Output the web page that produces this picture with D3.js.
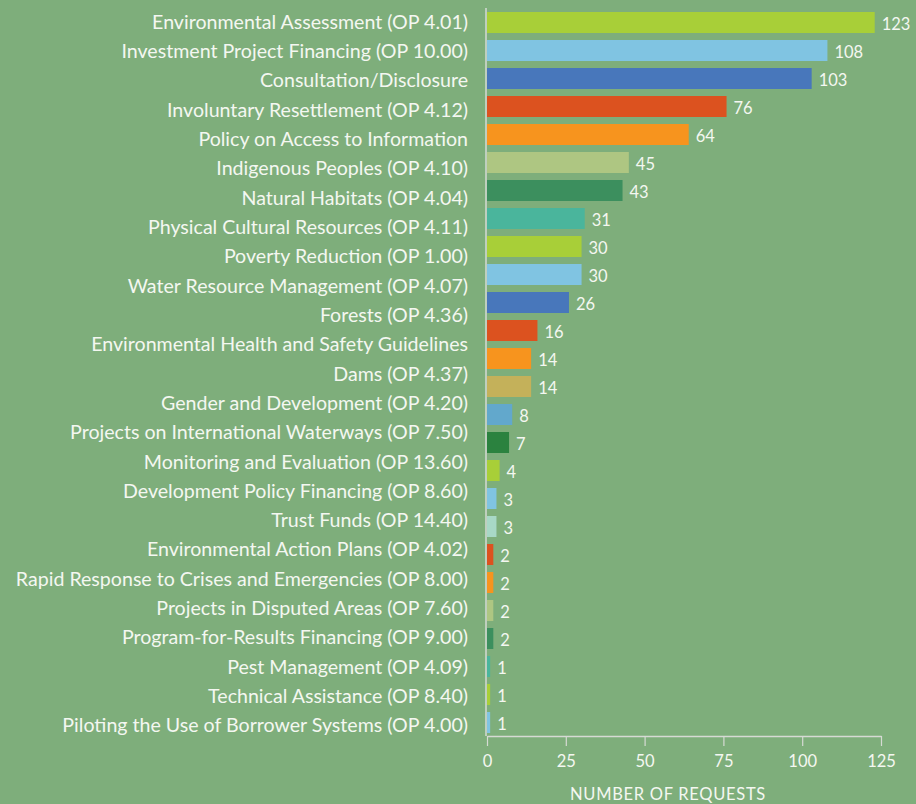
<!DOCTYPE html>
<html>
<head>
<meta charset="utf-8">
<script src="https://cdn.jsdelivr.net/npm/d3@7"></script>
<style>
  html, body { margin: 0; padding: 0; background: #7eae7b; }
  svg { display: block; font-family: Lato, "Open Sans", sans-serif; }
</style>
</head>
<body>
<div id="chart"></div>
<script>
// policy names, as shown down the left side (25 of them)
const policies = [
  "Environmental Assessment (OP 4.01)",
  "Investment Project Financing (OP 10.00)",
  "Consultation/Disclosure",
  "Involuntary Resettlement (OP 4.12)",
  "Policy on Access to Information",
  "Indigenous Peoples (OP 4.10)",
  "Natural Habitats (OP 4.04)",
  "Physical Cultural Resources (OP 4.11)",
  "Poverty Reduction (OP 1.00)",
  "Water Resource Management (OP 4.07)",
  "Forests (OP 4.36)",
  "Environmental Health and Safety Guidelines",
  "Dams (OP 4.37)",
  "Gender and Development (OP 4.20)",
  "Projects on International Waterways (OP 7.50)",
  "Monitoring and Evaluation (OP 13.60)",
  "Development Policy Financing (OP 8.60)",
  "Trust Funds (OP 14.40)",
  "Environmental Action Plans (OP 4.02)",
  "Rapid Response to Crises and Emergencies (OP 8.00)",
  "Projects in Disputed Areas (OP 7.60)",
  "Program-for-Results Financing (OP 9.00)",
  "Pest Management (OP 4.09)",
  "Technical Assistance (OP 8.40)",
  "Piloting the Use of Borrower Systems (OP 4.00)"
];

// bar values (26 bars in the source graphic)
const requests = [123, 108, 103, 76, 64, 45, 43, 31, 30, 30, 26, 16, 14, 14, 8, 7, 4, 3, 3, 2, 2, 2, 2, 1, 1, 1];

const barColors = [
  "#a8cf38", "#80c4e2", "#4877bb", "#dc521f", "#f7941e", "#aec682", "#3c8f5e", "#4ab59c",
  "#a8cf38", "#80c4e2", "#4877bb", "#dc521f", "#f7941e", "#c4b15a", "#62a8cc", "#2b823f",
  "#a8cf38", "#80c4e2", "#a8d8c6", "#dc521f", "#f7941e", "#aec682", "#3c8f5e", "#4ab59c",
  "#a8cf38", "#80c4e2"
];

const xTicks = [0, 25, 50, 75, 100, 125];

const width = 916;
const height = 804;
const textColor = "#f4f7f1";
const axisColor = "#d6dad4";

const svg = d3.select("#chart")
  .append("svg")
  .attr("width", width)
  .attr("height", height);

const x = d3.scaleLinear().domain([0, 125]).range([487, 881]);

const y = d3.scaleBand()
  .domain(d3.range(requests.length))
  .range([8.5, 736.5])
  .paddingInner(0.25)
  .paddingOuter(0.125);

const yLabel = d3.scalePoint()
  .domain(policies)
  .range([7.35, 740.15])
  .padding(0.5);

// bars
svg.selectAll(".bar")
  .data(requests)
  .enter()
  .append("rect")
  .attr("class", "bar")
  .attr("x", x(0))
  .attr("y", (d, i) => y(i))
  .attr("width", d => x(d) - x(0))
  .attr("height", y.bandwidth())
  .attr("fill", (d, i) => barColors[i]);

// value labels
svg.selectAll(".value")
  .data(requests)
  .enter()
  .append("text")
  .attr("class", "value")
  .attr("x", d => x(d) + 7)
  .attr("y", (d, i) => y(i) + y.bandwidth() / 2 + 1.5)
  .attr("dy", "0.35em")
  .attr("fill", textColor)
  .attr("font-size", "16.5px")
  .text(d => d);

// category labels
svg.selectAll(".cat")
  .data(policies)
  .enter()
  .append("text")
  .attr("class", "cat")
  .attr("x", 468)
  .attr("y", d => yLabel(d))
  .attr("dy", "0.35em")
  .attr("text-anchor", "end")
  .attr("fill", textColor)
  .attr("font-size", "19.6px")
  .text(d => d);

// vertical axis line
svg.append("line")
  .attr("x1", 486).attr("x2", 486)
  .attr("y1", 8).attr("y2", 736)
  .attr("stroke", axisColor)
  .attr("stroke-width", 1.5);

// x axis
const xAxis = svg.append("g")
  .attr("transform", "translate(0,736)")
  .call(d3.axisBottom(x).tickValues(xTicks).tickSize(10).tickSizeOuter(0).tickPadding(9));

xAxis.select(".domain").attr("stroke", axisColor).attr("stroke-width", 1.5);
xAxis.selectAll(".tick line").attr("stroke", axisColor).attr("stroke-width", 1.2);
xAxis.selectAll(".tick text")
  .attr("fill", textColor)
  .attr("font-size", "16.5px")
  .attr("font-family", "Lato, sans-serif");

svg.append("text")
  .attr("x", 668)
  .attr("y", 800)
  .attr("text-anchor", "middle")
  .attr("fill", textColor)
  .attr("font-size", "16.5px")
  .attr("letter-spacing", "0.7px")
  .text("NUMBER OF REQUESTS");
</script>
</body>
</html>
